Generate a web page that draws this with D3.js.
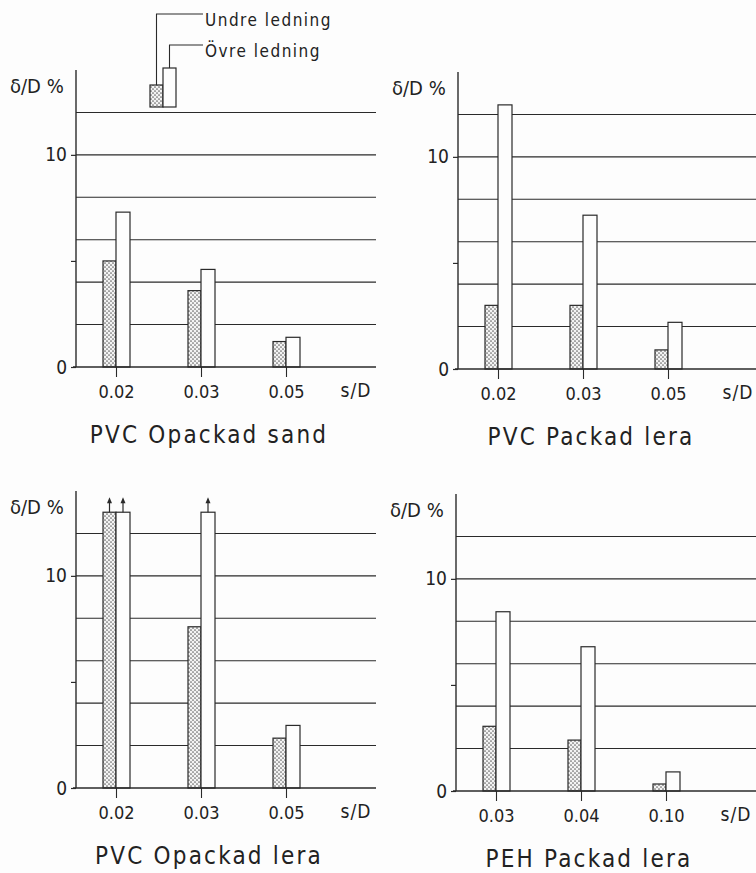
<!DOCTYPE html>
<html>
<head>
<meta charset="utf-8">
<script src="https://cdn.jsdelivr.net/npm/d3@7"></script>
<style>
  html, body { margin: 0; padding: 0; background: #fdfdfd; }
  svg { display: block; }
  text { font-family: "DejaVu Sans Condensed", "DejaVu Sans", sans-serif; fill: #222; }
</style>
</head>
<body>
<div id="chart"></div>
<script>
// Values (δ/D in %)
const sandCats = ['0.02', '0.03', '0.05'];
const sandUndre = [5.0, 3.6, 1.2];
const sandOvre = [7.3, 4.6, 1.4];

const packLeraCats = ['0.02', '0.03', '0.05'];
const packLeraUndre = [3.0, 3.0, 0.9];
const packLeraOvre = [12.45, 7.25, 2.2];

// bars marked with an arrow run off the scale
const opLeraCats = ['0.02', '0.03', '0.05'];
const opLeraUndre = [13, 7.6, 2.35];
const opLeraOvre = [13, 13, 2.95];
const opLeraUndreOff = [true, false, false];
const opLeraOvreOff = [true, true, false];

const pehCats = ['0.03', '0.04', '0.10'];
const pehUndre = [3.05, 2.4, 0.33];
const pehOvre = [8.45, 6.8, 0.9];

const titles = ['PVC Opackad sand', 'PVC Packad lera', 'PVC Opackad lera', 'PEH Packad lera'];
const seriesNames = ['Undre ledning', 'Övre ledning'];
const yTicks = [0, 5, 10];
const yTickLabels = ['0', '', '10'];
const gridVals = [2, 4, 6, 8, 10, 12];
const yLabel = 'δ/D %';
const xLabel = 's/D';

const width = 756, height = 873;
const H = 297, W = 300, yMax = 14;
const ink = '#2a2a2a';

// panel anchors: y-axis x position and zero line y position
const anchors = [
    { x: 76, y: 367 },
    { x: 458, y: 369 },
    { x: 76, y: 788 },
    { x: 456, y: 791 }
];

const panels = [
    { cats: sandCats, undre: sandUndre, ovre: sandOvre },
    { cats: packLeraCats, undre: packLeraUndre, ovre: packLeraOvre },
    { cats: opLeraCats, undre: opLeraUndre, ovre: opLeraOvre, undreOff: opLeraUndreOff, ovreOff: opLeraOvreOff },
    { cats: pehCats, undre: pehUndre, ovre: pehOvre }
];

const svg = d3.select('#chart')
    .append('svg')
    .attr('width', width)
    .attr('height', height)
    .attr('viewBox', [0, 0, width, height]);

svg.append('rect').attr('width', width).attr('height', height).attr('fill', '#fdfdfd');

// Dotted fill for the lower pipe
const defs = svg.append('defs');
const pat = defs.append('pattern')
    .attr('id', 'dots')
    .attr('width', 4)
    .attr('height', 4)
    .attr('patternUnits', 'userSpaceOnUse');
pat.append('rect').attr('width', 4).attr('height', 4).attr('fill', '#f3f3f3');
pat.append('circle').attr('cx', 1).attr('cy', 1).attr('r', 0.85).attr('fill', '#666');
pat.append('circle').attr('cx', 3).attr('cy', 3).attr('r', 0.85).attr('fill', '#666');

const y = d3.scaleLinear().domain([0, yMax]).range([H, 0]);
const barW = 13;

panels.forEach((p, i) => {
    const a = anchors[i];
    const g = svg.append('g').attr('transform', `translate(${a.x},${a.y - H})`);

    const x = d3.scalePoint().domain(p.cats).range([40, 210]);

    // horizontal grid lines
    g.append('g')
        .selectAll('line')
        .data(gridVals)
        .join('line')
        .attr('x1', 0)
        .attr('x2', W)
        .attr('y1', d => y(d))
        .attr('y2', d => y(d))
        .attr('stroke', ink)
        .attr('stroke-width', 1.1);

    // bars
    const rows = p.cats.map((c, j) => ({
        cat: c,
        undre: p.undre[j],
        ovre: p.ovre[j],
        undreOff: p.undreOff ? p.undreOff[j] : false,
        ovreOff: p.ovreOff ? p.ovreOff[j] : false
    }));

    const bars = g.append('g');
    bars.selectAll('rect.undre')
        .data(rows)
        .join('rect')
        .attr('class', 'undre')
        .attr('x', d => x(d.cat) - barW)
        .attr('y', d => y(d.undre))
        .attr('width', barW)
        .attr('height', d => H - y(d.undre))
        .attr('fill', 'url(#dots)')
        .attr('stroke', ink)
        .attr('stroke-width', 1.2);

    bars.selectAll('rect.ovre')
        .data(rows)
        .join('rect')
        .attr('class', 'ovre')
        .attr('x', d => x(d.cat))
        .attr('y', d => y(d.ovre))
        .attr('width', barW + 1)
        .attr('height', d => H - y(d.ovre))
        .attr('fill', '#fdfdfd')
        .attr('stroke', ink)
        .attr('stroke-width', 1.2);

    // arrows for off-scale bars
    const arrows = [];
    rows.forEach(d => {
        if (d.undreOff) arrows.push({ cx: x(d.cat) - barW / 2, v: d.undre });
        if (d.ovreOff) arrows.push({ cx: x(d.cat) + (barW + 1) / 2, v: d.ovre });
    });
    const arr = g.append('g').selectAll('g').data(arrows).join('g');
    arr.append('line')
        .attr('x1', d => d.cx).attr('x2', d => d.cx)
        .attr('y1', d => y(d.v)).attr('y2', d => y(d.v) - 11)
        .attr('stroke', ink).attr('stroke-width', 1.2);
    arr.append('path')
        .attr('d', d => `M${d.cx - 2.5},${y(d.v) - 9} L${d.cx},${y(d.v) - 15} L${d.cx + 2.5},${y(d.v) - 9} Z`)
        .attr('fill', ink);

    // y axis
    const yAxis = g.append('g')
        .call(d3.axisLeft(y)
            .tickValues(yTicks)
            .tickSize(5)
            .tickPadding(4)
            .tickFormat((d, k) => yTickLabels[k]));
    yAxis.select('.domain').remove();
    yAxis.append('line')
        .attr('x1', 0).attr('x2', 0)
        .attr('y1', H).attr('y2', 0)
        .attr('stroke', ink).attr('stroke-width', 1.4);
    yAxis.selectAll('.tick line').attr('stroke', ink).attr('stroke-width', 1.2);
    yAxis.selectAll('.tick text')
        .attr('font-size', 19)
        .attr('font-family', '"DejaVu Sans Condensed", sans-serif')
        .attr('fill', '#222');

    // x axis (zero line)
    const xAxis = g.append('g')
        .attr('transform', `translate(0,${H})`)
        .call(d3.axisBottom(x).tickSize(10).tickPadding(8));
    xAxis.select('.domain').remove();
    xAxis.append('line')
        .attr('x1', -3).attr('x2', W)
        .attr('y1', 0).attr('y2', 0)
        .attr('stroke', ink).attr('stroke-width', 1.4);
    xAxis.selectAll('.tick line').attr('stroke', ink).attr('stroke-width', 1.1);
    xAxis.selectAll('.tick text')
        .attr('font-size', 18)
        .attr('font-family', '"DejaVu Sans Condensed", sans-serif')
        .attr('fill', '#222');

    g.append('text')
        .attr('x', 280)
        .attr('y', H + 30)
        .attr('text-anchor', 'middle')
        .attr('font-size', 19)
        .attr('letter-spacing', 1)
        .text(xLabel);

    g.append('text')
        .attr('x', -66)
        .attr('y', 23)
        .attr('font-size', 20)
        .text(yLabel);

    g.append('text')
        .attr('x', 133)
        .attr('y', H + 76)
        .attr('text-anchor', 'middle')
        .attr('font-size', 24)
        .attr('letter-spacing', 2.2)
        .text(titles[i]);
});

// Legend drawn in the first panel
const leg = svg.append('g');
const legItems = [
    { name: seriesNames[0], x: 150, top: 85, lineY: 14, fill: 'url(#dots)' },
    { name: seriesNames[1], x: 163, top: 68, lineY: 45, fill: '#fdfdfd' }
];
leg.selectAll('rect')
    .data(legItems)
    .join('rect')
    .attr('x', d => d.x)
    .attr('y', d => d.top)
    .attr('width', barW)
    .attr('height', d => 107 - d.top)
    .attr('fill', d => d.fill)
    .attr('stroke', ink)
    .attr('stroke-width', 1.2);
leg.selectAll('path')
    .data(legItems)
    .join('path')
    .attr('d', d => `M${d.x + barW / 2},${d.top} V${d.lineY} H203`)
    .attr('fill', 'none')
    .attr('stroke', ink)
    .attr('stroke-width', 1.1);
leg.selectAll('text')
    .data(legItems)
    .join('text')
    .attr('x', 205)
    .attr('y', d => d.lineY + 12)
    .attr('font-size', 17)
    .attr('letter-spacing', 1.5)
    .text(d => d.name);
</script>
</body>
</html>
